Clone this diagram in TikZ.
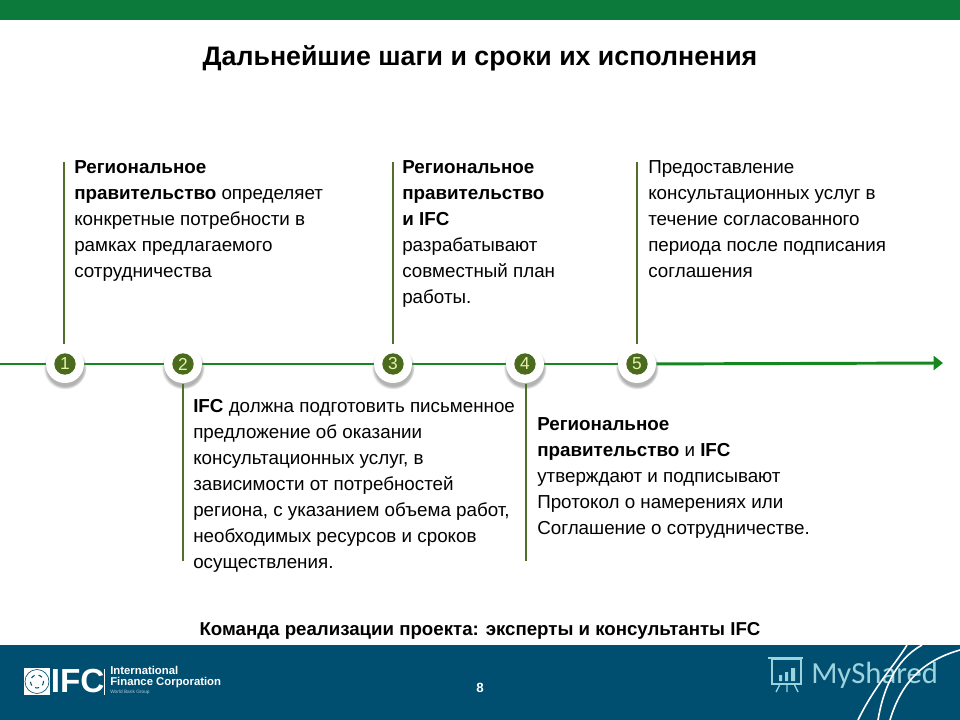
\documentclass[tikz,border=0pt]{standalone}
\usepackage{fontspec}
\setmainfont{Liberation Sans}
\newfontfamily\markfont{Carlito}
\usetikzlibrary{shadows,arrows.meta}
\definecolor{barGreen}{HTML}{0B7A3B}
\definecolor{footBlue}{HTML}{004F71}
\definecolor{lineGreen}{HTML}{15871E}
\definecolor{stemGreen}{HTML}{4F6F2A}
\definecolor{dotGreen}{HTML}{4A6B1E}
\definecolor{numYellow}{HTML}{E6F0A8}
\definecolor{markTeal}{HTML}{9CD3DC}
\tikzset{
  halo/.style={circle,fill=white,minimum size=28.5pt,inner sep=0pt,
    circular drop shadow={shadow xshift=0pt,shadow yshift=-2.4pt,shadow scale=1.14,opacity=.6}},
  stepdot/.style={circle,fill=dotGreen,minimum size=16pt,inner sep=0pt,text=numYellow,
    font=\fontsize{13}{13}\selectfont},
  stem/.style={draw=stemGreen,line width=2.2pt},
  axis/.style={draw=lineGreen,line width=2.2pt},
  body/.style={anchor=north west,align=left,inner sep=0pt,
    font=\fontsize{14.1}{19.5}\selectfont},
}
\begin{document}
\begin{tikzpicture}[x=.75pt,y=-.75pt]
\useasboundingbox (0,0) rectangle (960,720);
\fill[barGreen] (0,0) rectangle (960,20); % top band
\fill[footBlue] (0,645) rectangle (960,720); % footer
\node[font=\fontsize{20.05}{22}\selectfont\bfseries] (title) at (480,58) {Дальнейшие шаги и сроки их исполнения};
% time line
\coordinate (start) at (0,364);
\coordinate (end) at (943,363);
\foreach \i/\x in {1/65,2/183,3/393,4/525,5/637}{
  \node[circle,minimum size=28.5pt,inner sep=0pt] (h\i) at (\x,364) {};
}
\draw[axis] (start) -- (h1);
\draw[axis] (h1) -- (h2);
\draw[axis] (h2) -- (h3);
\draw[axis] (h3) -- (h4);
\draw[axis] (h4) -- (h5);
\draw[axis,-{Triangle[length=7pt,width=10.5pt]}] (h5) -- (end);
\foreach \i/\x in {1/65,2/183,3/393,4/525,5/637}{
  \node[halo] (w\i) at (\x,364) {};
  \node[stepdot] (n\i) at (\x,364) {\i};
}
% stems
\coordinate (t1) at (64,162);
\coordinate (t2) at (183,561);
\coordinate (t3) at (393,162);
\coordinate (t4) at (526,561);
\coordinate (t5) at (637,162);
\draw[stem] (t1) -- (64,344);
\draw[stem] (t2) -- (183,384);
\draw[stem] (t3) -- (393,344);
\draw[stem] (t4) -- (526,384);
\draw[stem] (t5) -- (637,344);
% texts
\node[body] (a1) at (74,160) {\textbf{Региональное}\\\textbf{правительство} определяет\\конкретные потребности в\\рамках предлагаемого\\сотрудничества};
\node[body] (a3) at (402,160) {\textbf{Региональное}\\\textbf{правительство}\\\textbf{и IFC}\\разрабатывают\\совместный план\\работы.};
\node[body] (a5) at (648,160) {Предоставление\\консультационных услуг в\\течение согласованного\\периода после подписания\\соглашения};
\node[body] (a2) at (193,399) {\textbf{IFC} должна подготовить письменное\\предложение об оказании\\консультационных услуг, в\\зависимости от потребностей\\региона, с указанием объема работ,\\необходимых ресурсов и сроков\\осуществления.};
\node[body] (a4) at (537,417) {\textbf{Региональное}\\\textbf{правительство} и \textbf{IFC}\\утверждают и подписывают\\Протокол о намерениях или\\Соглашение о сотрудничестве.};
\node[font=\fontsize{14}{16}\selectfont\bfseries] (team) at (480,631) {Команда реализации проекта: эксперты и консультанты IFC};
\node[font=\fontsize{10}{12}\selectfont\bfseries,text=white] (page) at (480,688) {8};
% logo
\fill[white] (24,668) rectangle (49.5,695);
\draw[footBlue,line width=.5pt] (37,681.5) circle (12);
\draw[footBlue,line width=.8pt,dashed] (37,681.5) circle (6.5);
\node[font=\fontsize{25}{25}\selectfont\bfseries,text=white,anchor=west,inner sep=0pt] (ifc) at (50.5,681.5) {IFC};
\draw[white,line width=.5pt] (104.5,669) -- (104.5,695);
\node[font=\fontsize{8.5}{8.2}\selectfont\bfseries,text=white,anchor=south west,align=left,inner sep=0pt] (ifcname) at (110,688.5) {International\\Finance Corporation};
\node[font=\fontsize{3.6}{4}\selectfont,text=white!70!footBlue,anchor=north west,inner sep=0pt] (ifcgroup) at (110,690) {World Bank Group};
% watermark
\node[font=\markfont\fontsize{23}{23}\selectfont,text=markTeal,anchor=west,inner sep=0pt] (mark) at (811,675) {MyShared};
\draw[markTeal,line width=1pt] (772,659) rectangle (801,684);
\draw[markTeal,line width=1pt] (768,658) -- (803,658);
\draw[markTeal,line width=1pt] (780,684) -- (776,692) (787,684) -- (787,692) (794,684) -- (798,692);
\fill[markTeal] (779,675) rectangle (782,681) (785,672) rectangle (788,681) (791,668) rectangle (795,681);
% arcs
\draw[white,line width=1.2pt] (858,720) .. controls (875,685) and (895,665) .. (907,645);
\draw[white,line width=1.2pt] (878,720) .. controls (883,690) and (895,660) .. (922,645);
\draw[white,line width=1.2pt] (890,720) .. controls (902,680) and (925,660) .. (960,650);
\end{tikzpicture}
\end{document}
